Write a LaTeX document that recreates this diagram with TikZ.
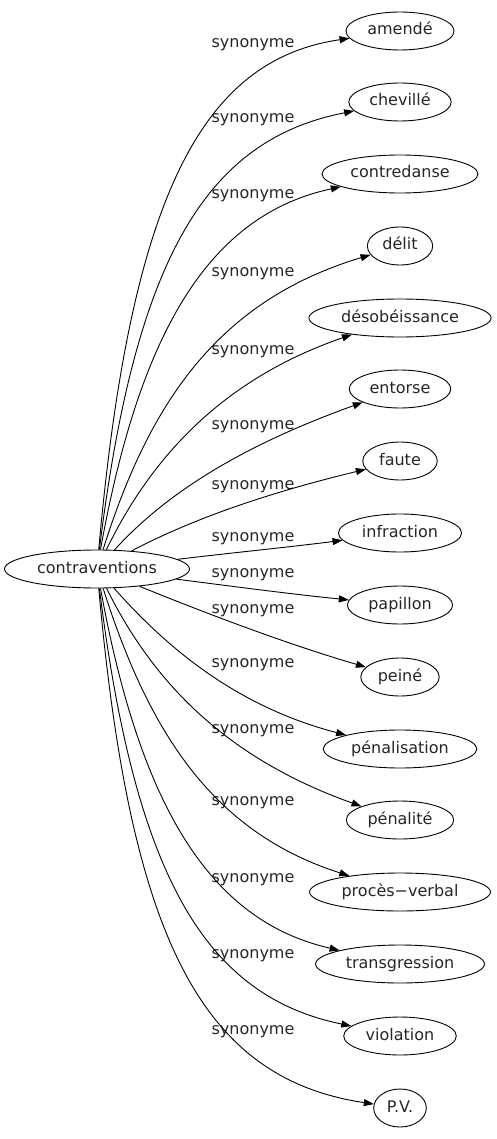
\documentclass[tikz,border=0pt]{standalone}
\usepackage{fontspec}
\setmainfont{DejaVu Sans}
\usetikzlibrary{arrows.meta,shapes.geometric}
\begin{document}
\begin{tikzpicture}[x=1pt,y=-1pt,
  every node/.style={font=\fontsize{16}{19}\selectfont, text=black!85},
  term/.style={draw=black, ellipse, line width=0.9pt, inner xsep=5.5pt, inner ysep=0pt,
    minimum height=38pt, text height=11pt, text depth=3pt},
  lbl/.style={anchor=base, inner sep=0pt},
  syn/.style={draw, line width=0.9pt, -{Triangle[length=10pt,width=7pt]}}]
\useasboundingbox (0,0) rectangle (496,1139);
\node[term] (c) at (97,569) {contraventions};
\node[term] (t1)  at (400,31)   {amendé};
\node[term] (t2)  at (400,102)  {chevillé};
\node[term] (t3)  at (400,174)  {contredanse};
\node[term] (t4)  at (400,246)  {délit};
\node[term] (t5)  at (400,318)  {désobéissance};
\node[term] (t6)  at (400,389)  {entorse};
\node[term] (t7)  at (400,461)  {faute};
\node[term] (t8)  at (400,533)  {infraction};
\node[term] (t9)  at (400,605)  {papillon};
\node[term] (t10) at (400,677)  {peiné};
\node[term] (t11) at (400,749)  {pénalisation};
\node[term] (t12) at (400,820)  {pénalité};
\node[term] (t13) at (400,892)  {procès−verbal};
\node[term] (t14) at (400,964)  {transgression};
\node[term] (t15) at (400,1036) {violation};
\node[term] (t16) at (400,1108) {P.V.};
\node[lbl] (l1)  at (253,47.5)   {synonyme};
\node[lbl] (l2)  at (253,122.5)  {synonyme};
\node[lbl] (l3)  at (253,198.5)  {synonyme};
\node[lbl] (l4)  at (253,276.5)  {synonyme};
\node[lbl] (l5)  at (253,354.5)  {synonyme};
\node[lbl] (l6)  at (253,429.5)  {synonyme};
\node[lbl] (l7)  at (253,489.5)  {synonyme};
\node[lbl] (l8)  at (253,541.5)  {synonyme};
\node[lbl] (l9)  at (253,577.5)  {synonyme};
\node[lbl] (l10) at (253,613.5)  {synonyme};
\node[lbl] (l11) at (253,667.5)  {synonyme};
\node[lbl] (l12) at (253,733.5)  {synonyme};
\node[lbl] (l13) at (253,805.5)  {synonyme};
\node[lbl] (l14) at (253,882.5)  {synonyme};
\node[lbl] (l15) at (253,958.5)  {synonyme};
\node[lbl] (l16) at (253,1034.5) {synonyme};
\draw[syn] (c) .. controls (130,200) and (200,60) .. (t1);
\draw[syn] (c) .. controls (135,260) and (205,140) .. (t2);
\draw[syn] (c) .. controls (140,330) and (210,215) .. (t3);
\draw[syn] (c) .. controls (150,400) and (220,300) .. (t4);
\draw[syn] (c) .. controls (150,460) and (220,380) .. (t5);
\draw[syn] (c) .. controls (160,500) and (230,450) .. (t6);
\draw[syn] (c) .. controls (200,515) and (280,490) .. (t7);
\draw[syn] (c) .. controls (230,553) and (290,547) .. (t8);
\draw[syn] (c) .. controls (230,586) and (290,594) .. (t9);
\draw[syn] (c) .. controls (210,615) and (290,645) .. (t10);
\draw[syn] (c) .. controls (160,640) and (230,705) .. (t11);
\draw[syn] (c) .. controls (150,676) and (220,756) .. (t12);
\draw[syn] (c) .. controls (150,736) and (215,833) .. (t13);
\draw[syn] (c) .. controls (140,806) and (210,921) .. (t14);
\draw[syn] (c) .. controls (135,876) and (205,996) .. (t15);
\draw[syn] (c) .. controls (130,936) and (200,1078) .. (t16);
\end{tikzpicture}
\end{document}
